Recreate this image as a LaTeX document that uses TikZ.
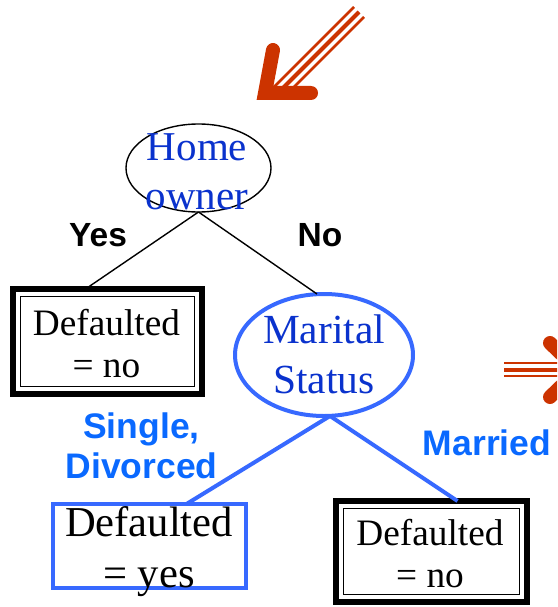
\documentclass[tikz,border=0pt]{standalone}
\usepackage{fontspec}
\setmainfont{Liberation Serif}
\newfontfamily\labelsans{Liberation Sans}
\usetikzlibrary{shapes.geometric}

\definecolor{arrowred}{RGB}{204,51,0}
\definecolor{nodeblue}{RGB}{10,50,205}
\definecolor{edgeblue}{RGB}{55,105,255}
\definecolor{labelblue}{RGB}{10,105,255}

% multi-line text nodes are placed by the baseline of their last line
\tikzset{
  every node/.style={inner sep=0pt, outer sep=0pt},
  splitnode/.style={ellipse, draw=black, line width=1.4pt},
  marnode/.style={ellipse, draw=edgeblue, line width=4pt},
  leafbox/.style={rectangle, draw=black, line width=6pt},
  yesbox/.style={rectangle, draw=edgeblue, line width=4.5pt},
  leafinner/.style={draw=black, line width=1.6pt},
  nodetext/.style={font=\fontsize{41}{49}\selectfont, text=nodeblue, align=center, anchor=base},
  leaftext/.style={font=\fontsize{37.3}{42}\selectfont, align=center, anchor=base},
  bigleaftext/.style={font=\fontsize{42.6}{51}\selectfont, align=center, anchor=base},
  branchlabel/.style={font=\labelsans\bfseries\fontsize{35.5}{40}\selectfont, align=center, anchor=base},
  blackedge/.style={draw=black, line width=1.4pt},
  blueedge/.style={draw=edgeblue, line width=4pt},
  stripe/.style={draw=arrowred, line width=#1},
  chevron/.style={draw=arrowred, line width=14pt, line cap=round, line join=miter}
}

\begin{document}
\begin{tikzpicture}[x=1pt, y=-1pt]
\useasboundingbox (0,0) rectangle (557,607);
\clip (0,0) rectangle (557,607);

% decision nodes
\node[splitnode, minimum width=145pt, minimum height=88pt] (home) at (198.5,168) {};
\node[nodetext] (hometext) at (197,209) {Home\\owner};

\node[marnode, minimum width=178pt, minimum height=122pt] (mar) at (324,355) {};
\node[nodetext, font=\fontsize{41.4}{50}\selectfont] (martext) at (324,393) {Marital\\Status};

% leaves
\node[leafbox, minimum width=189pt, minimum height=105pt] (leafA) at (107.5,341.5) {};
\draw[leafinner] ([shift={(7.5,7.5)}]leafA.north west) rectangle ([shift={(-7.5,-7.5)}]leafA.south east);
\node[leaftext] (leafAtext) at (106.5,377) {Defaulted\\= no};

\node[yesbox, minimum width=193pt, minimum height=84pt] (leafB) at (149.5,546) {};
\node[bigleaftext] (leafBtext) at (149,587) {Defaulted\\= yes};

\node[leafbox, minimum width=191pt, minimum height=101pt] (leafC) at (431.5,551.5) {};
\draw[leafinner] ([shift={(7.5,7.5)}]leafC.north west) rectangle ([shift={(-7.5,-7.5)}]leafC.south east);
\node[leaftext] (leafCtext) at (430,587) {Defaulted\\= no};

% branches
\draw[blackedge] (home.south) -- ([xshift=-22pt]leafA.north);
\draw[blackedge] (home.south) -- ([xshift=-7pt]mar.north);
\draw[blueedge] ([xshift=6pt]mar.south) -- ([xshift=37pt]leafB.north);
\draw[blueedge] ([xshift=6pt]mar.south) -- ([xshift=26pt]leafC.north);

% branch labels
\node[branchlabel, font=\labelsans\bfseries\fontsize{33.5}{38}\selectfont] (yes) at (98,246) {Yes};
\node[branchlabel, font=\labelsans\bfseries\fontsize{33.5}{38}\selectfont] (no) at (320,246) {No};
\node[branchlabel, text=labelblue] (single) at (141.5,478) {Single,\\Divorced};
\node[branchlabel, text=labelblue] (married) at (487,455) {Married};

% pointer arrow at the top
\coordinate (sA) at (354,7);
\coordinate (sB) at (359,12);
\coordinate (sC) at (364,17);
\draw[stripe=2.6pt] (sA) -- ++(-80,80);
\draw[stripe=4pt] (sB) -- ++(-80,80);
\draw[stripe=2.6pt] (sC) -- ++(-80,80);
\draw[chevron] (273,50) -- (265,93) -- (311,93);

% pointer arrow at the right edge
\coordinate (rA) at (504,363);
\coordinate (rB) at (504,369.5);
\coordinate (rC) at (504,376);
\draw[stripe=2.4pt] (rA) -- ++(80,0);
\draw[stripe=4pt] (rB) -- ++(80,0);
\draw[stripe=2.4pt] (rC) -- ++(80,0);
\draw[chevron] (550,343) -- (578,370) -- (550,397);
\end{tikzpicture}
\end{document}
